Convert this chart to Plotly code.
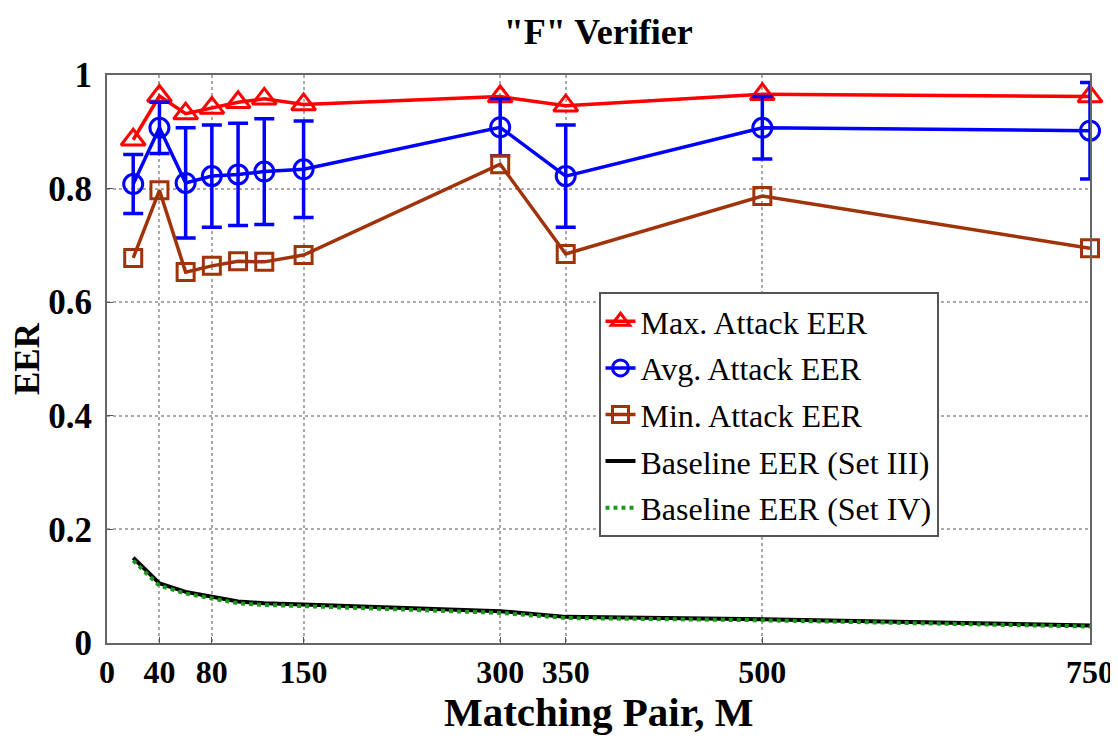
import plotly.graph_objects as go

x_pairs = [20, 40, 60, 80, 100, 120, 150, 300, 350, 500, 750]
max_eer = [0.886, 0.963, 0.932, 0.942, 0.952, 0.958, 0.948, 0.962, 0.946, 0.966, 0.962]
avg_eer = [0.808, 0.907, 0.810, 0.822, 0.825, 0.830, 0.834, 0.908, 0.822, 0.907, 0.902]
avg_err = [0.052, 0.045, 0.097, 0.090, 0.090, 0.093, 0.085, 0.050, 0.090, 0.055, 0.085]
min_eer = [0.678, 0.797, 0.653, 0.664, 0.672, 0.671, 0.683, 0.843, 0.685, 0.787, 0.695]
base_set3 = [0.150, 0.105, 0.090, 0.081, 0.073, 0.070, 0.068, 0.056, 0.046, 0.042, 0.031]
base_set4 = [0.145, 0.101, 0.087, 0.078, 0.070, 0.067, 0.065, 0.053, 0.044, 0.040, 0.029]
x_ticks = [0, 40, 80, 150, 300, 350, 500, 750]
y_ticks = [0, 0.2, 0.4, 0.6, 0.8, 1.0]

SERIF = "Liberation Serif, Times New Roman, serif"

fig = go.Figure()
fig.add_trace(go.Scatter(
    x=x_pairs, y=max_eer, name="Max. Attack EER", mode="lines+markers",
    line=dict(color="#ff0000", width=3.5),
    marker=dict(symbol="triangle-up-open", size=21, color="#ff0000", line=dict(width=3)),
    cliponaxis=False, legendgroup="a"))
fig.add_trace(go.Scatter(
    x=x_pairs, y=avg_eer, name="Avg. Attack EER", mode="lines+markers",
    line=dict(color="#0000ff", width=3.5),
    marker=dict(symbol="circle-open", size=19, color="#0000ff", line=dict(width=3)),
    error_y=dict(type="data", array=avg_err, color="#0000ff", thickness=3.5, width=10),
    cliponaxis=False, legendgroup="b"))
fig.add_trace(go.Scatter(
    x=x_pairs, y=min_eer, name="Min. Attack EER", mode="lines+markers",
    line=dict(color="#a0330a", width=3.5),
    marker=dict(symbol="square-open", size=17, color="#a0330a", line=dict(width=3)),
    cliponaxis=False, legendgroup="c"))
fig.add_trace(go.Scatter(
    x=x_pairs, y=base_set3, name="Baseline EER (Set III)", mode="lines",
    line=dict(color="#000000", width=4), legendgroup="d"))
fig.add_trace(go.Scatter(
    x=x_pairs, y=base_set4, name="Baseline EER (Set IV)", mode="lines",
    line=dict(color="#1a9a1a", width=4, dash="dot"), legendgroup="e"))

fig.update_layout(
    width=1118, height=736,
    paper_bgcolor="white", plot_bgcolor="white",
    margin=dict(l=97, r=36, t=67, b=101),
    title=dict(text='"F" Verifier', x=0.528, xanchor="center", y=0.968, yanchor="middle",
               font=dict(family=SERIF, size=36, color="black", weight="bold")),
    font=dict(family=SERIF, color="black"),
    showlegend=True,
    legend=dict(x=0.5, y=0.618, xanchor="left", yanchor="top",
                bgcolor="white", bordercolor="#555555", borderwidth=2,
                font=dict(family=SERIF, size=32, color="black"),
                traceorder="grouped", tracegroupgap=2, itemwidth=30),
    annotations=[dict(text="Matching Pair, M", xref="paper", yref="paper",
                      x=0.5, y=-0.122, xanchor="center", yanchor="middle",
                      showarrow=False,
                      font=dict(family=SERIF, size=41, color="black", weight="bold"))],
)
fig.update_xaxes(
    range=[0, 750], tickmode="array", tickvals=x_ticks,
    ticks="inside", ticklen=6, tickcolor="#555555",
    showline=True, linecolor="#666666", linewidth=2, mirror=True,
    showgrid=True, gridcolor="#aaaaaa", griddash="dot", gridwidth=1.5,
    zeroline=False,
    tickfont=dict(family=SERIF, size=32, color="black", weight="bold"),
)
fig.update_yaxes(
    range=[0, 1], tickmode="array", tickvals=y_ticks,
    ticktext=["0", "0.2", "0.4", "0.6", "0.8", "1"],
    ticks="inside", ticklen=6, tickcolor="#555555",
    showline=True, linecolor="#666666", linewidth=2, mirror=True,
    showgrid=True, gridcolor="#aaaaaa", griddash="dot", gridwidth=1.5,
    zeroline=False, ticklabelstandoff=6,
    tickfont=dict(family=SERIF, size=35, color="black", weight="bold"),
    title=dict(text="EER", standoff=4,
               font=dict(family=SERIF, size=35, color="black", weight="bold")),
)

fig.write_html("out.html")
